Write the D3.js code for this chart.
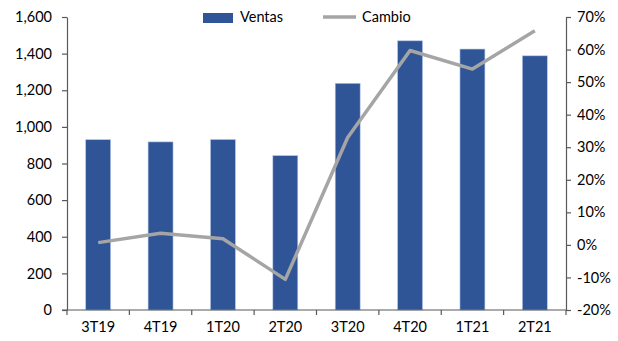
<!DOCTYPE html>
<html>
<head>
<meta charset="utf-8">
<script src="https://cdn.jsdelivr.net/npm/d3@7"></script>
<style>
  html, body { margin: 0; padding: 0; background: #fff; }
  svg { display: block; }
</style>
</head>
<body>
<svg id="chart"></svg>
<script>
/* ── Data ── */
const categories = ['3T19', '4T19', '1T20', '2T20', '3T20', '4T20', '1T21', '2T21'];
const ventas     = [930, 918, 931, 843, 1238, 1470, 1425, 1388];
const cambio     = [0.7, 3.6, 1.9, -10.6, 33.0, 59.7, 54.0, 65.8];
const leftTicks  = [0, 200, 400, 600, 800, 1000, 1200, 1400, 1600];
const rightTicks = [-20, -10, 0, 10, 20, 30, 40, 50, 60, 70];

const BAR_COLOR  = '#2F5597';
const LINE_COLOR = '#A5A5A5';
const AXIS_COLOR = '#595959';
const FONT       = 'Lato, "Open Sans", sans-serif';

const W = 618, H = 341;
const margin = { top: 17, right: 52, bottom: 31, left: 67 };
const iW = W - margin.left - margin.right;
const iH = H - margin.top - margin.bottom;

const svg = d3.select('#chart')
  .attr('width', W)
  .attr('height', H)
  .attr('viewBox', `0 0 ${W} ${H}`);

const g = svg.append('g')
  .attr('transform', `translate(${margin.left},${margin.top})`);

/* ── Scales ── */
const x = d3.scaleBand()
  .domain(categories)
  .range([0, iW])
  .paddingInner(0.6)
  .paddingOuter(0.3);

const xTick = d3.scaleLinear().domain([0, categories.length]).range([0, iW]);

const yL = d3.scaleLinear().domain([0, 1600]).range([iH, 0]);
const yR = d3.scaleLinear().domain([-20, 70]).range([iH, 0]);

/* ── Bars ── */
g.selectAll('rect.bar')
  .data(ventas)
  .join('rect')
  .attr('class', 'bar')
  .attr('x', (d, i) => x(categories[i]))
  .attr('y', d => yL(d))
  .attr('width', x.bandwidth())
  .attr('height', d => iH - yL(d))
  .attr('fill', BAR_COLOR)
  .attr('stroke', '#B4C7E7')
  .attr('stroke-width', 0.6);

/* ── Line ── */
const line = d3.line()
  .x((d, i) => x(categories[i]) + x.bandwidth() / 2)
  .y(d => yR(d));

g.append('path')
  .datum(cambio)
  .attr('d', line)
  .attr('fill', 'none')
  .attr('stroke', LINE_COLOR)
  .attr('stroke-width', 3.5)
  .attr('stroke-linejoin', 'round');

/* ── Axes ── */
function styleAxis(ax) {
  ax.select('.domain').attr('stroke', AXIS_COLOR).attr('stroke-width', 1.2);
  ax.selectAll('.tick line').attr('stroke', AXIS_COLOR).attr('stroke-width', 1.2);
  ax.selectAll('.tick text')
    .attr('fill', '#000')
    .attr('font-size', 14.5)
    .attr('font-family', FONT);
}

g.append('g')
  .call(d3.axisLeft(yL).tickValues(leftTicks).tickSize(5).tickSizeOuter(0)
    .tickFormat(d3.format(',')).tickPadding(10))
  .call(styleAxis);

g.append('g')
  .attr('transform', `translate(${iW},0)`)
  .call(d3.axisRight(yR).tickValues(rightTicks).tickSize(5).tickSizeOuter(0)
    .tickFormat(d => d + '%').tickPadding(6))
  .call(styleAxis);

/* bottom axis: ticks at band edges, labels at band centres */
const bx = g.append('g').attr('transform', `translate(0,${iH})`);
bx.append('line')
  .attr('x1', -5).attr('x2', iW)
  .attr('stroke', AXIS_COLOR).attr('stroke-width', 1.2);
bx.selectAll('line.tk')
  .data(d3.range(categories.length + 1))
  .join('line')
  .attr('class', 'tk')
  .attr('x1', d => xTick(d)).attr('x2', d => xTick(d))
  .attr('y1', 0).attr('y2', 5)
  .attr('stroke', AXIS_COLOR).attr('stroke-width', 1.2);
bx.selectAll('text')
  .data(categories)
  .join('text')
  .attr('x', d => x(d) + x.bandwidth() / 2)
  .attr('y', 22)
  .attr('text-anchor', 'middle')
  .attr('fill', '#000')
  .attr('font-size', 14.5)
  .attr('font-family', FONT)
  .text(d => d);

/* ── Legend ── */
const lg = svg.append('g');
lg.append('rect')
  .attr('x', 203).attr('y', 13).attr('width', 30).attr('height', 10)
  .attr('fill', BAR_COLOR);
lg.append('text')
  .attr('x', 240).attr('y', 18)
  .attr('dominant-baseline', 'middle')
  .attr('font-size', 14.5).attr('font-family', FONT)
  .text('Ventas');
lg.append('line')
  .attr('x1', 323).attr('x2', 356).attr('y1', 17).attr('y2', 17)
  .attr('stroke', LINE_COLOR).attr('stroke-width', 3.5);
lg.append('text')
  .attr('x', 362).attr('y', 18)
  .attr('dominant-baseline', 'middle')
  .attr('font-size', 14.5).attr('font-family', FONT)
  .text('Cambio');
</script>
</body>
</html>
